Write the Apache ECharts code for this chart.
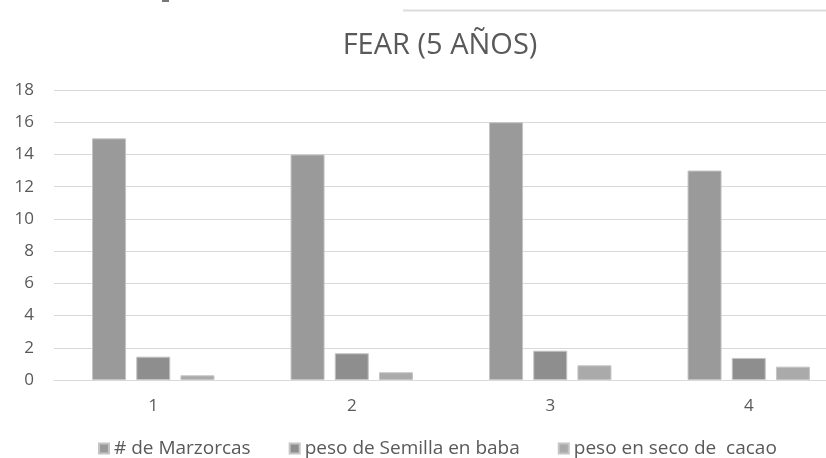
<!DOCTYPE html>
<html>
<head>
<meta charset="utf-8">
<script src="https://cdn.jsdelivr.net/npm/echarts@6/dist/echarts.min.js"></script>
<style>
  html, body { margin: 0; padding: 0; background: #fff; overflow: hidden; }
  /* el gráfico original está recortado por la derecha */
  #chart { width: 848px; height: 458px; }
</style>
</head>
<body>
<div id="chart"></div>
<script>
// datos
const categories = ['1', '2', '3', '4']
const mazorcas = [15, 14, 16, 13]
const pesoBaba = [1.45, 1.66, 1.82, 1.37]
const pesoSeco = [0.29, 0.48, 0.91, 0.83]
const seriesNames = ['# de Marzorcas', 'peso de Semilla en baba', 'peso en seco de  cacao']

const chart = echarts.init(document.getElementById('chart'))

const textColor = '#595959'
const fontFamily = '"Open Sans", "Noto Sans", sans-serif'

const barStyle = (color) => ({
  color: color,
  borderColor: '#c4c4c4',
  borderWidth: 1,
})

const option = {
  backgroundColor: '#fff',
  animation: false,
  title: {
    text: 'FEAR (5 AÑOS)',
    left: 435,
    textAlign: 'center',
    top: 26,
    textStyle: {
      color: textColor,
      fontFamily: fontFamily,
      fontSize: 29,
      fontWeight: 'normal',
    },
  },
  legend: {
    left: 93,
    top: 434,
    itemWidth: 10,
    itemHeight: 10,
    itemGap: 38,
    icon: 'rect',
    textStyle: {
      color: textColor,
      fontFamily: fontFamily,
      fontSize: 19,
    },
    data: seriesNames,
  },
  grid: {
    left: 54,
    top: 90,
    right: 0,
    height: 290,
    containLabel: false,
  },
  xAxis: {
    type: 'category',
    data: categories,
    axisLine: { show: true, lineStyle: { color: '#d9d9d9', width: 1 } },
    axisTick: { show: false },
    axisLabel: {
      color: textColor,
      fontFamily: fontFamily,
      fontSize: 17,
      margin: 18,
    },
  },
  yAxis: {
    type: 'value',
    min: 0,
    max: 18,
    interval: 2,
    axisLine: { show: false },
    axisTick: { show: false },
    axisLabel: {
      color: textColor,
      fontFamily: fontFamily,
      fontSize: 17,
      margin: 20,
    },
    splitLine: { lineStyle: { color: '#d9d9d9', width: 1 } },
  },
  series: [
    {
      name: seriesNames[0],
      type: 'bar',
      data: mazorcas,
      barWidth: 34,
      barGap: '30%',
      itemStyle: barStyle('#9a9a9a'),
    },
    {
      name: seriesNames[1],
      type: 'bar',
      data: pesoBaba,
      barWidth: 34,
      barGap: '30%',
      itemStyle: barStyle('#8e8e8e'),
    },
    {
      name: seriesNames[2],
      type: 'bar',
      data: pesoSeco,
      barWidth: 34,
      barGap: '30%',
      itemStyle: barStyle('#aaaaaa'),
    },
  ],
  graphic: [
    {
      type: 'line',
      shape: { x1: 403, y1: 10.5, x2: 848, y2: 10.5 },
      style: { stroke: '#dcdcdc', lineWidth: 2 },
    },
    {
      type: 'rect',
      shape: { x: 162, y: 0, width: 7, height: 2 },
      style: { fill: '#777' },
    },
  ],
}

chart.setOption(option)
</script>
</body>
</html>
